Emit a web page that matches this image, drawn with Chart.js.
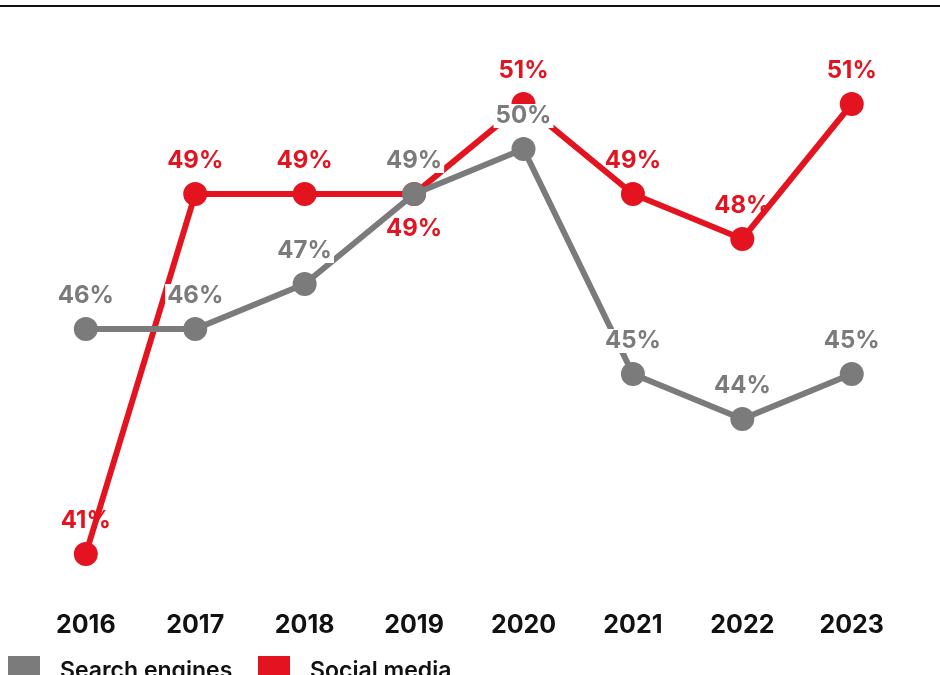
<!DOCTYPE html>
<html>
<head>
<meta charset="utf-8">
<script src="https://cdn.jsdelivr.net/npm/chart.js@4"></script>
<style>
  body { margin: 0; background: #fff; overflow: hidden; }
  #wrap { position: relative; width: 940px; height: 675px; }
  #topline { position: absolute; left: 0; top: 5px; width: 940px; height: 2px; background: #111; }
  #legend { position: absolute; left: 8px; top: 656px; font: 600 23px Inter, sans-serif; color: #111; white-space: nowrap; }
  #legend span.box { display: inline-block; width: 32px; height: 32px; vertical-align: top; margin-right: 20px; }
  #legend span.lbl { display: inline-block; margin-right: 20px; line-height: 26px; }
</style>
</head>
<body>
<div id="wrap">
  <canvas id="chart" width="940" height="675"></canvas>
  <div id="topline"></div>
  <div id="legend">
    <span class="box" style="background:#7b7b7b"></span><span class="lbl">Search engines</span>
    <span class="box" style="background:#e3141f"></span><span class="lbl">Social media</span>
  </div>
</div>
<script>
// chart data
const years = ['2016', '2017', '2018', '2019', '2020', '2021', '2022', '2023'];
const searchEngines = [46, 46, 47, 49, 50, 45, 44, 45];
const socialMedia = [41, 49, 49, 49, 51, 49, 48, 51];

const GREY = '#7b7b7b';
const RED = '#e3141f';

// labels drawn above each point, grey ones with a white box behind them
const pointLabels = {
    id: 'pointLabels',
    afterDatasetsDraw(chart) {
        const ctx = chart.ctx;
        ctx.save();
        ctx.font = '700 24px Inter, sans-serif';
        ctx.textAlign = 'center';
        ctx.textBaseline = 'middle';
        chart.data.datasets.forEach((ds, i) => {
            const meta = chart.getDatasetMeta(i);
            meta.data.forEach((pt, j) => {
                const text = ds.data[j] + '%';
                // red 2019 sits under the point
                const below = i === 0 && j === 3;
                const y = below ? pt.y + 35 : pt.y - 33;
                const w = ctx.measureText(text).width;
                if (ds.labelBg) {
                    ctx.fillStyle = '#fff';
                    ctx.fillRect(pt.x - w / 2 - 2, y - 12, w + 4, 24);
                }
                ctx.fillStyle = ds.borderColor;
                ctx.fillText(text, pt.x, y);
            });
        });
        ctx.restore();
    }
};

new Chart(document.getElementById('chart'), {
    type: 'line',
    data: {
        labels: years,
        datasets: [{
            label: 'Social media',
            data: socialMedia,
            borderColor: RED,
            backgroundColor: RED,
            borderWidth: 6,
            pointRadius: 9,
            pointHoverRadius: 9,
            clip: false,
            order: 2,
            labelBg: false
        }, {
            label: 'Search engines',
            data: searchEngines,
            borderColor: GREY,
            backgroundColor: GREY,
            borderWidth: 6,
            pointRadius: 9,
            pointHoverRadius: 9,
            clip: false,
            order: 1,
            labelBg: true
        }]
    },
    options: {
        responsive: false,
        animation: false,
        layout: { padding: { left: 38, right: 77, top: 104, bottom: -21 } },
        plugins: { legend: { display: false }, tooltip: { enabled: false } },
        scales: {
            x: {
                offset: false,
                grid: { display: false, drawTicks: false },
                border: { display: false },
                ticks: { padding: 56, color: '#111', font: { family: 'Inter, sans-serif', size: 25, weight: '700' } }
            },
            y: {
                display: false,
                min: 41,
                max: 51
            }
        }
    },
    plugins: [pointLabels]
});
</script>
</body>
</html>
